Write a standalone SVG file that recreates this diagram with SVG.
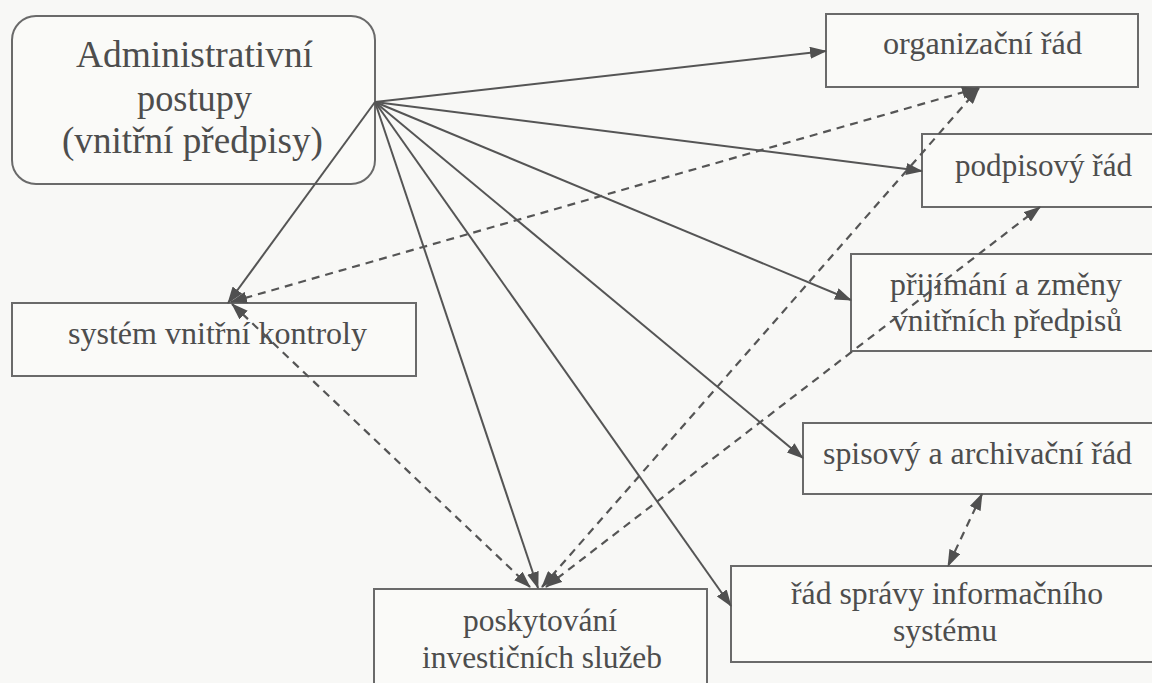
<svg xmlns="http://www.w3.org/2000/svg" width="1152" height="683" viewBox="0 0 1152 683">
  <defs>
    <style>
      .box { fill: #fafaf8; stroke: #6a6a6a; stroke-width: 2; }
      .lbl { font-family: "Liberation Serif", "Times New Roman", serif; font-size: 32px; fill: #4d4d4d; }
      .title { font-size: 37px; }
      .solid { fill: none; stroke: #555; stroke-width: 2; }
      .dash { fill: none; stroke: #555; stroke-width: 2.2; stroke-dasharray: 8 6; }
    </style>
    <marker id="head" markerUnits="userSpaceOnUse" markerWidth="17" markerHeight="12" refX="16" refY="6" orient="auto-start-reverse">
      <path d="M0,0 L17,6 L0,12 z" fill="#505050"/>
    </marker>
  </defs>

  <rect width="1152" height="683" fill="#f8f8f6"/>

  <!-- nodes -->
  <g id="admin-postupy">
    <rect class="box" x="12" y="16" width="363" height="168" rx="24"/>
    <text class="lbl title" x="76" y="67" textLength="237" lengthAdjust="spacingAndGlyphs">Administrativní</text>
    <text class="lbl title" x="137" y="111" textLength="115" lengthAdjust="spacingAndGlyphs">postupy</text>
    <text class="lbl title" x="62" y="153" textLength="261" lengthAdjust="spacingAndGlyphs">(vnitřní předpisy)</text>
  </g>

  <g id="organizacni-rad">
    <rect class="box" x="826" y="14" width="312" height="73"/>
    <text class="lbl" x="883" y="54" textLength="199" lengthAdjust="spacingAndGlyphs">organizační řád</text>
  </g>

  <g id="podpisovy-rad">
    <rect class="box" x="922" y="134" width="250" height="73"/>
    <text class="lbl" x="955" y="176" textLength="177" lengthAdjust="spacingAndGlyphs">podpisový řád</text>
  </g>

  <g id="prijimani-predpisu">
    <rect class="box" x="851" y="254" width="320" height="97"/>
    <text class="lbl" x="890" y="295" textLength="232" lengthAdjust="spacingAndGlyphs">přijímání a změny</text>
    <text class="lbl" x="892" y="331" textLength="230" lengthAdjust="spacingAndGlyphs">vnitřních předpisů</text>
  </g>

  <g id="system-vnitrni-kontroly">
    <rect class="box" x="12" y="303" width="404" height="73"/>
    <text class="lbl" x="68" y="344" textLength="299" lengthAdjust="spacingAndGlyphs">systém vnitřní kontroly</text>
  </g>

  <g id="spisovy-rad">
    <rect class="box" x="803" y="423" width="370" height="71"/>
    <text class="lbl" x="823" y="464" textLength="309" lengthAdjust="spacingAndGlyphs">spisový a archivační řád</text>
  </g>

  <g id="rad-spravy-is">
    <rect class="box" x="731" y="566" width="440" height="96"/>
    <text class="lbl" x="791" y="604" textLength="312" lengthAdjust="spacingAndGlyphs">řád správy informačního</text>
    <text class="lbl" x="893" y="641" textLength="104" lengthAdjust="spacingAndGlyphs">systému</text>
  </g>

  <g id="investicni-sluzby">
    <rect class="box" x="374" y="589" width="333" height="120"/>
    <text class="lbl" x="463" y="631" textLength="154" lengthAdjust="spacingAndGlyphs">poskytování</text>
    <text class="lbl" x="422" y="668" textLength="240" lengthAdjust="spacingAndGlyphs">investičních služeb</text>
  </g>

  <!-- connectors, drawn over the boxes -->
  <g id="connectors">
    <path class="solid" d="M375,102 L826,51" marker-end="url(#head)"/>
    <path class="solid" d="M375,102 L922,171" marker-end="url(#head)"/>
    <path class="solid" d="M375,102 L851,300" marker-end="url(#head)"/>
    <path class="solid" d="M375,102 L803,458" marker-end="url(#head)"/>
    <path class="solid" d="M375,102 L731,606" marker-end="url(#head)"/>
    <path class="solid" d="M375,102 L538,588" marker-end="url(#head)"/>
    <path class="solid" d="M375,102 L228,303" marker-end="url(#head)"/>

    <path class="dash" d="M231,302 L978,88" marker-start="url(#head)" marker-end="url(#head)"/>
    <path class="dash" d="M232,304 L530,587" marker-start="url(#head)" marker-end="url(#head)"/>
    <path class="dash" d="M542,587 L979,88" marker-start="url(#head)" marker-end="url(#head)"/>
    <path class="dash" d="M546,587 L1040,207" marker-start="url(#head)" marker-end="url(#head)"/>
    <path class="dash" d="M982,494 L948,566" marker-start="url(#head)" marker-end="url(#head)"/>
  </g>
</svg>
